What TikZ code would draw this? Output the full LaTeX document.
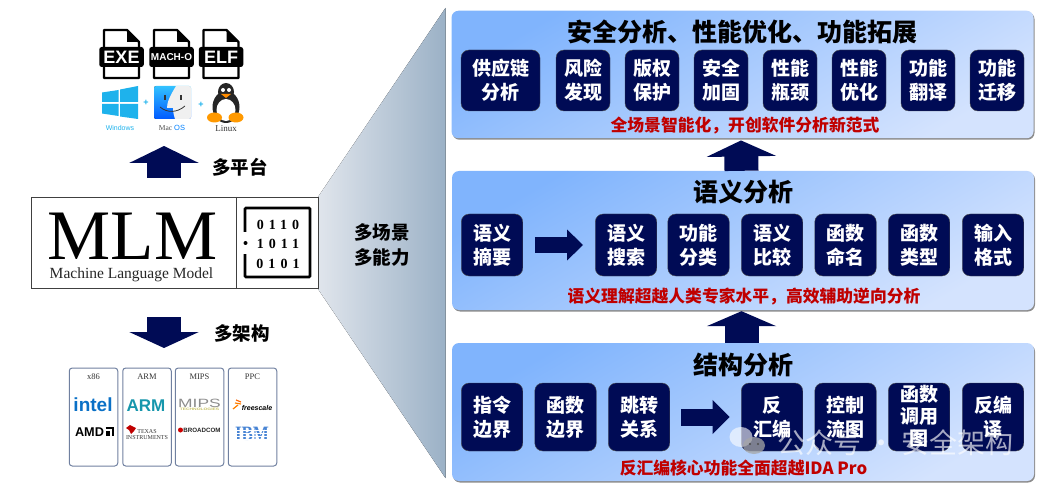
\documentclass[tikz,border=0pt]{standalone}
\usepackage{fontspec}
\usepackage{tikz}
\usetikzlibrary{arrows.meta,shadows}
\newfontfamily\cjk{Noto Sans CJK SC}
\newfontfamily\arialfont{Liberation Sans}
\newfontfamily\timesfont{Liberation Serif}
\newfontfamily\codefont[LetterSpace=36]{Liberation Serif}
\definecolor{navy_box}{RGB}{0, 11, 85}
\definecolor{red_note}{RGB}{192, 0, 0}
\definecolor{panel_a}{RGB}{128, 180, 253}
\definecolor{panel_b}{RGB}{212, 227, 254}
\definecolor{wedge_a}{RGB}{224, 229, 236}
\definecolor{wedge_b}{RGB}{155, 177, 198}
\definecolor{cpu_edge}{RGB}{112, 128, 160}
\definecolor{win_blue}{RGB}{30, 178, 236}
\definecolor{intel_blue}{RGB}{10, 112, 198}
\definecolor{arm_teal}{RGB}{22, 150, 172}
\definecolor{ibm_blue}{RGB}{72, 132, 212}
\tikzstyle{panel}=[rectangle,rounded corners=7pt,top color=panel_a,bottom color=panel_b,
  shading angle=30,inner sep=0pt,minimum width=582pt,
  drop shadow={shadow xshift=1pt,shadow yshift=-1.5pt,opacity=0.45,fill=black}]
\tikzstyle{bx}=[rectangle,rounded corners=8pt,fill=navy_box,draw=black!70,line width=0.4pt,
  inner sep=0pt,text=white,align=center,font=\cjk\bfseries\fontsize{19}{24}\selectfont]
\tikzstyle{bxw}=[bx,minimum width=54pt,minimum height=61pt]
\tikzstyle{bxm}=[bx,minimum width=61.5pt,minimum height=62pt]
\tikzstyle{bxl}=[bx,minimum width=61.5pt,minimum height=68pt]
\tikzstyle{title}=[font=\cjk\bfseries\fontsize{25}{30}\selectfont,inner sep=0pt]
\tikzstyle{note}=[font=\cjk\bfseries\fontsize{16.8}{20}\selectfont,text=red_note,inner sep=0pt]
\tikzstyle{side}=[font=\cjk\bfseries\fontsize{18.5}{25}\selectfont,inner sep=0pt,align=center]
\tikzstyle{cpu}=[rectangle,rounded corners=3pt,draw=cpu_edge,line width=1pt,inner sep=0pt,
  minimum width=48.5pt,minimum height=98pt]
\tikzstyle{cpuname}=[font=\timesfont\fontsize{8.5}{10}\selectfont,text=black!80,inner sep=0pt]
\tikzstyle{logo}=[inner sep=0pt]
\tikzstyle{osname}=[inner sep=0pt,font=\arialfont\fontsize{7}{8}\selectfont]
\newcommand{\docicon}[3]{%
    \begin{scope}[shift={(#1,0)}]
        \draw [line width=2.4pt,line join=round,fill=white] (0,30) -- (23,30) -- (35,42) -- (35,78) -- (0,78) -- cycle;
        \fill [line join=round] (23,30) -- (35,42) -- (23,42) -- cycle;
        \node [rectangle,rounded corners=2.5pt,fill=black,minimum width=44.5pt,minimum height=20pt,inner sep=0pt,
          text=white,font=\arialfont\bfseries\fontsize{#3}{#3}\selectfont] (#2) at (17.5,57) {#2};
    \end{scope}}
\begin{document}
\begin{tikzpicture}[x=1pt,y=-1pt]
    \useasboundingbox (0,0) rectangle (1043,486);
    % wedge
    \fill [left color=wedge_a,right color=wedge_b] (318,197) -- (445.5,8) -- (445.5,478) -- (318,289) -- cycle;
    \node [style=side] (scene) at (382,244.5) {多场景\\多能力};
    % mlm box
    \node [rectangle,draw=black!75,line width=0.9pt,fill=white,minimum width=287pt,minimum height=91pt,inner sep=0pt] (mlm) at (174.5,242.5) {};
    \coordinate (mlmtop) at (236,197);
    \coordinate (mlmbot) at (236,288);
    \draw [black!75,line width=0.9pt] (mlmtop) -- (mlmbot);
    \node [inner sep=0pt,font=\timesfont\fontsize{71}{71}\selectfont] (mlmname) at (132.5,236) {MLM};
    \node [inner sep=0pt,font=\timesfont\fontsize{15.5}{18}\selectfont,text=black!85] (mlmlong) at (131.5,275) {Machine Language Model};
    \draw [line width=2.6pt,rounded corners=1pt] (245,232) -- (245,208) -- (310,208) -- (310,277) -- (245,277) -- (245,254);
    \fill (245.5,243) circle (2pt);
    \node [inner sep=0pt,align=center,font=\codefont\bfseries\fontsize{14}{19.5}\selectfont] (bits) at (278,244) {0110\\1011\\0101};
    % top left icons
    \docicon{104}{EXE}{18}
    \docicon{154}{MACH-O}{10}
    \docicon{203.5}{ELF}{18}
    \fill [win_blue] (102,92.5) -- (118.5,90) -- (118.5,102) -- (102,102) -- cycle;
    \fill [win_blue] (120,89.5) -- (138,86) -- (138,102) -- (120,102) -- cycle;
    \fill [win_blue] (102,104) -- (118.5,104) -- (118.5,116) -- (102,113.5) -- cycle;
    \fill [win_blue] (120,104) -- (138,104) -- (138,119) -- (120,116.5) -- cycle;
    \node [style=osname,text=win_blue] (win) at (120,128) {Windows};
    \node [logo,text=win_blue,font=\arialfont\bfseries\fontsize{9}{9}\selectfont] (plusa) at (146,103) {+};
    \begin{scope}
        \clip [rounded corners=2pt] (154,86) rectangle (191,119);
        \fill [top color=cyan!70!blue!80,bottom color=blue!65!cyan] (154,86) rectangle (191,119);
        \fill [black!6] (176,86) .. controls (170,96) and (167,102) .. (167,108) -- (173,108) .. controls (173,112) and (174,116) .. (175,119) -- (191,119) -- (191,86) -- cycle;
    \end{scope}
    \draw [line width=1.2pt,black!80] (165,95) -- (165,100);
    \draw [line width=1.2pt,black!80] (181,95) -- (181,100);
    \draw [line width=0.8pt,black!80] (160,107) .. controls (167,113) and (177,113) .. (185,106);
    \node [logo,font=\timesfont\fontsize{7.5}{8}\selectfont,text=black!70] (mac) at (172,128) {Mac {\arialfont\color{blue!50!cyan}OS}};
    \node [logo,text=win_blue,font=\arialfont\bfseries\fontsize{9}{9}\selectfont] (plusb) at (201,105) {+};
    \fill [black!85] (226,92) ellipse [x radius=8,y radius=9];
    \fill [black!85] (226,107) ellipse [x radius=13.5,y radius=16];
    \fill [white] (226,110) ellipse [x radius=9.5,y radius=11];
    \fill [white] (223,90) circle (2pt);
    \fill [white] (229,90) circle (2pt);
    \fill [orange!90!yellow] (221,94) -- (231,94) -- (226,98) -- cycle;
    \fill [orange!80!yellow] (214.5,117.5) ellipse [x radius=7.5,y radius=5];
    \fill [orange!80!yellow] (236,117.5) ellipse [x radius=7.5,y radius=5];
    \node [logo,font=\timesfont\fontsize{9}{10}\selectfont,text=black!80] (linux) at (226,129) {Linux};
    % arrows left
    \coordinate (upa) at (164,178);
    \coordinate (upb) at (164,146);
    \coordinate (downa) at (164,317);
    \coordinate (downb) at (164,348);
    \draw [navy_box,line width=34pt,-{Triangle[width=69pt,length=17pt]}] (upa) -- (upb);
    \draw [navy_box,line width=34pt,-{Triangle[width=69pt,length=16pt]}] (downa) -- (downb);
    \node [style=side] (platform) at (240,167) {多平台};
    \node [style=side] (arch) at (242,333) {多架构};
    % cpu cards
    \node [style=cpu] (x86) at (93.5,417) {};
    \node [style=cpu] (arm) at (147,417) {};
    \node [style=cpu] (mips) at (199.5,417) {};
    \node [style=cpu] (ppc) at (252.5,417) {};
    \node [style=cpuname] (x86n) at (93.5,377) {x86};
    \node [style=cpuname] (armn) at (147,377) {ARM};
    \node [style=cpuname] (mipsn) at (199.5,377) {MIPS};
    \node [style=cpuname] (ppcn) at (252.5,377) {PPC};
    \node [logo,text=intel_blue,font=\arialfont\bfseries\fontsize{19}{19}\selectfont] (intel) at (93,404.5) {intel};
    \node [logo,font=\arialfont\bfseries\fontsize{12.7}{13}\selectfont] (amd) at (89.5,432) {AMD};
    \draw [line width=1.6pt] (105.5,428) -- (113,428) -- (113,436);
    \fill (106,431) -- (110,431) -- (110,436) -- (106,436) -- cycle;
    \node [logo,text=arm_teal,font=\arialfont\bfseries\fontsize{17}{17}\selectfont] (armlogo) at (146,406) {ARM};
    \fill [red!75!black] (126,428) -- (130,425) -- (136,428) -- (134,431) -- (131,434) -- (129,430) -- cycle;
    \node [logo,text=black!80,font=\timesfont\fontsize{6}{6}\selectfont] (texas) at (147,431.5) {TEXAS};
    \node [logo,text=black!80,font=\timesfont\fontsize{6}{6}\selectfont] (ti) at (147,437.5) {INSTRUMENTS};
    \node [logo,text=black!45,font=\arialfont\fontsize{12}{12}\selectfont] (mipslogo) at (199.5,403) {\scalebox{1.45}[1]{MIPS}};
    \node [logo,text=olive!50,font=\arialfont\bfseries\fontsize{3.4}{4}\selectfont] (mipstech) at (199.5,409.5) {\scalebox{1.45}[1]{TECHNOLOGIES}};
    \fill [red!80!black] (180.5,430) circle (2.5pt);
    \node [logo,text=black!85,font=\arialfont\bfseries\fontsize{6.2}{7}\selectfont] (broadcom) at (202,430) {BROADCOM};
    \draw [orange,line width=1.2pt] (233,409) -- (238,405);
    \draw [orange,line width=1.2pt] (235,403) -- (241,404);
    \draw [orange!80!red,line width=1.2pt] (236,400) -- (241,402);
    \node [logo,font=\arialfont\bfseries\itshape\fontsize{7}{8}\selectfont] (freescale) at (257,407.5) {freescale};
    \node [logo,text=ibm_blue,font=\timesfont\bfseries\fontsize{17}{17}\selectfont] (ibm) at (252,434) {\scalebox{1}[1.2]{IBM}};
    \coordinate (ibml) at (234,430);
    \coordinate (ibmr) at (270,430);
    \draw [white,line width=0.5pt] (ibml) -- (ibmr);
    \draw [white,line width=0.5pt] ([yshift=-3pt]ibml) -- ([yshift=-3pt]ibmr);
    \draw [white,line width=0.5pt] ([yshift=-6pt]ibml) -- ([yshift=-6pt]ibmr);
    \draw [white,line width=0.5pt] ([yshift=-9pt]ibml) -- ([yshift=-9pt]ibmr);
    % right panels
    \node [style=panel,minimum height=127.5pt] (secure) at (742.5,74.5) {};
    \node [style=panel,minimum height=139pt] (semantic) at (743,240.5) {};
    \node [style=panel,minimum height=138pt] (struct) at (743,412) {};
    \draw [navy_box,line width=34pt,shorten >=2pt,-{Triangle[width=69pt,length=16pt]}] ([xshift=-1.5pt]semantic.north) -- ([xshift=-1.5pt]secure.south);
    \draw [navy_box,line width=34pt,shorten >=1pt,-{Triangle[width=69pt,length=15pt]}] ([xshift=-1.5pt]struct.north) -- ([xshift=-1.5pt]semantic.south);
    % top panel
    \node [style=title] (securet) at (742,32) {安全分析、性能优化、功能拓展};
    \node [style=bx,minimum width=79pt,minimum height=61pt] (supply) at (500.5,80.5) {供应链\\分析};
    \node [style=bxw] (risk) at (583,80.5) {风险\\发现};
    \node [style=bxw] (copyr) at (652,80.5) {版权\\保护};
    \node [style=bxw] (harden) at (721,80.5) {安全\\加固};
    \node [style=bxw] (bottle) at (790,80.5) {性能\\瓶颈};
    \node [style=bxw] (optim) at (859,80.5) {性能\\优化};
    \node [style=bxw] (transl) at (928,80.5) {功能\\翻译};
    \node [style=bxw] (migrate) at (997,80.5) {功能\\迁移};
    \node [style=note] (securen) at (745,126) {全场景智能化，开创软件分析新范式};
    % middle panel
    \node [style=title] (semantict) at (743,192) {语义分析};
    \node [style=bxm] (summary) at (492,245) {语义\\摘要};
    \node [style=bxm] (search) at (626,245) {语义\\搜索};
    \node [style=bxm] (classify) at (698.5,245) {功能\\分类};
    \node [style=bxm] (compare) at (772,245) {语义\\比较};
    \node [style=bxm] (fname) at (845.5,245) {函数\\命名};
    \node [style=bxm] (ftype) at (919,245) {函数\\类型};
    \node [style=bxm] (infmt) at (993,245) {输入\\格式};
    \draw [navy_box,line width=15pt,shorten <=12pt,shorten >=12pt,-{Triangle[width=30pt,length=16pt]}] (summary) -- (search);
    \node [style=note] (semanticn) at (744,297) {语义理解超越人类专家水平，高效辅助逆向分析};
    % bottom panel
    \node [style=title] (structt) at (743,365) {结构分析};
    \node [style=bxl] (insn) at (492,417) {指令\\边界};
    \node [style=bxl] (fbound) at (565.5,417) {函数\\边界};
    \node [style=bxl] (jump) at (639,417) {跳转\\关系};
    \node [style=bxl] (disasm) at (772,417) {反\\汇编};
    \node [style=bxl] (cfg) at (845.5,417) {控制\\流图};
    \node [style=bxl] (callg) at (919,417) {};
    \node [style=bx,draw=none,fill=none] (callgt) at (919,416) {函数\\[-2pt]调用\\[-2pt]图};
    \node [style=bxl] (decomp) at (993,417) {反编\\译};
    \draw [navy_box,line width=17pt,shorten <=11.5pt,shorten >=11.5pt,-{Triangle[width=33pt,length=17pt]}] (jump) -- (disasm);
    \node [style=note] (structn) at (743.5,468) {反汇编核心功能全面超越IDA Pro};
    % watermark
    \fill [white,opacity=0.6] (741,437) ellipse [x radius=11.5,y radius=10];
    \fill [black!35,opacity=0.75] (754,445.5) ellipse [x radius=11,y radius=8.5];
    \fill [black!70] (750,444) circle (1.2pt);
    \fill [black!70] (758,444) circle (1.2pt);
    \node [inner sep=0pt,text=white,opacity=0.65,font=\cjk\fontsize{28}{30}\selectfont] (mark) at (895.5,443) {公众号 · 安全架构};
\end{tikzpicture}
\end{document}
